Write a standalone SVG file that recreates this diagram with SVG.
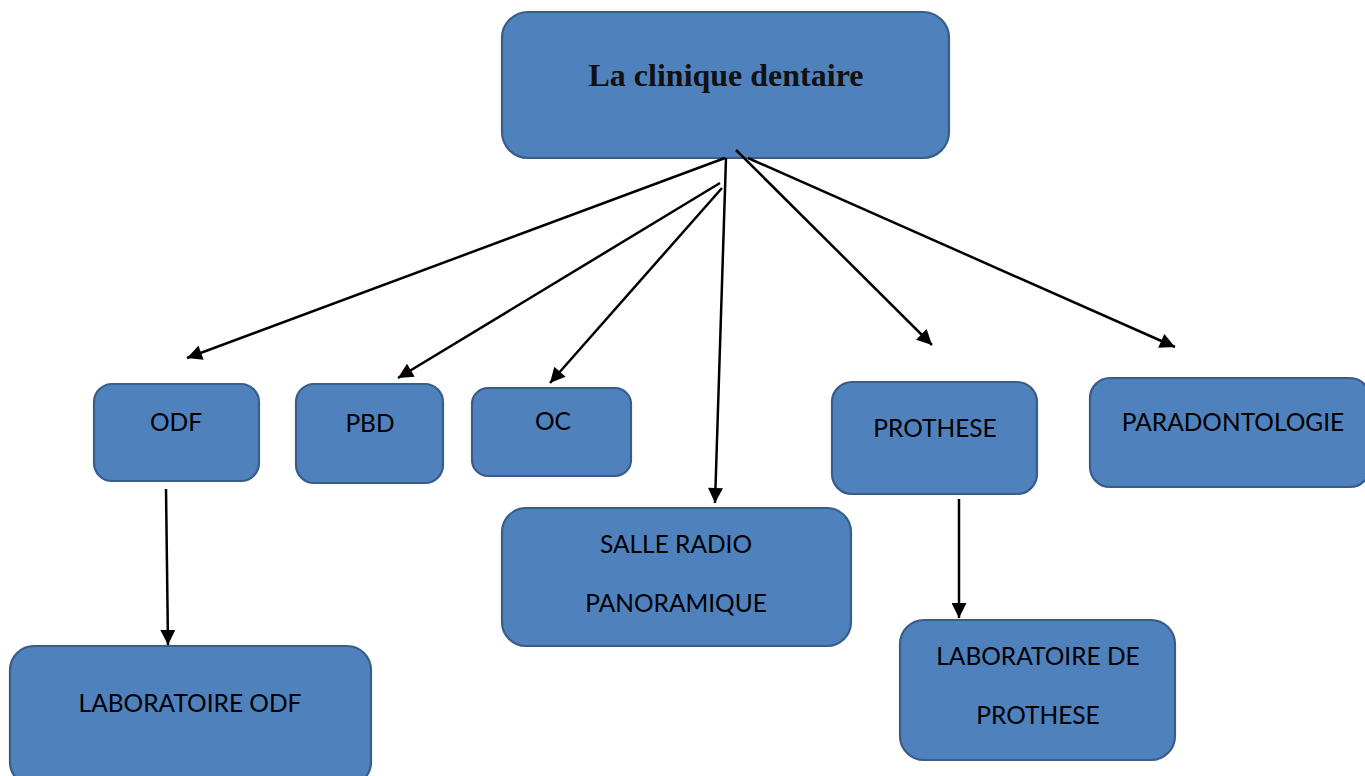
<svg xmlns="http://www.w3.org/2000/svg" width="1365" height="776" viewBox="0 0 1365 776">
<style>
.box{fill:#4F81BD;stroke:#385D8A;stroke-width:2.2}
.t{font-family:Lato,"Open Sans","Liberation Sans",sans-serif;font-size:24.5px;fill:#000;text-anchor:middle}
.title{font-family:"Liberation Serif","Times New Roman",serif;font-size:32px;font-weight:bold;fill:#111;text-anchor:middle}
.c{stroke:#000;stroke-width:2.5;fill:none;marker-end:url(#ah)}
</style>
<defs>
<marker id="ah" viewBox="0 0 10 10" refX="10" refY="5" markerUnits="userSpaceOnUse" markerWidth="18" markerHeight="15" orient="auto">
<path d="M0,0 L10,5 L0,10 z" fill="#000"/>
</marker>
</defs>
<rect width="1365" height="776" fill="#fff"/>
<g id="n-clinique">
<rect class="box" x="502" y="12" width="447" height="146" rx="26"/>
<text class="title" x="726" y="86">La clinique dentaire</text>
</g>
<g id="n-odf">
<rect class="box" x="94" y="384" width="165" height="97" rx="18"/>
<text class="t" x="176" y="431">ODF</text>
</g>
<g id="n-pbd">
<rect class="box" x="296" y="384" width="147" height="99" rx="18"/>
<text class="t" x="370" y="432">PBD</text>
</g>
<g id="n-oc">
<rect class="box" x="472" y="388" width="159" height="88" rx="16"/>
<text class="t" x="553" y="430">OC</text>
</g>
<g id="n-salle">
<rect class="box" x="502" y="508" width="349" height="138" rx="24"/>
<text class="t" x="676" y="553">SALLE RADIO</text>
<text class="t" x="676" y="612">PANORAMIQUE</text>
</g>
<g id="n-prothese">
<rect class="box" x="832" y="382" width="205" height="112" rx="20"/>
<text class="t" x="935" y="437">PROTHESE</text>
</g>
<g id="n-parodonto">
<rect class="box" x="1090" y="378" width="280" height="109" rx="20"/>
<text class="t" x="1233" y="431">PARADONTOLOGIE</text>
</g>
<g id="n-labodf">
<rect class="box" x="10" y="646" width="361" height="140" rx="24"/>
<text class="t" x="190" y="712">LABORATOIRE ODF</text>
</g>
<g id="n-labprothese">
<rect class="box" x="900" y="620" width="275" height="140" rx="24"/>
<text class="t" x="1038" y="665">LABORATOIRE DE</text>
<text class="t" x="1038" y="724">PROTHESE</text>
</g>
<g id="connectors">
<line class="c" x1="725" y1="158" x2="187" y2="358"/>
<line class="c" x1="720" y1="183" x2="398" y2="378"/>
<line class="c" x1="722" y1="188" x2="550" y2="383"/>
<line class="c" x1="726" y1="158" x2="715" y2="503"/>
<line class="c" x1="736" y1="150" x2="932" y2="345"/>
<line class="c" x1="748" y1="158" x2="1175" y2="347"/>
<line class="c" x1="166" y1="489" x2="168" y2="645"/>
<line class="c" x1="959" y1="499" x2="959" y2="618"/>
</g>
</svg>
